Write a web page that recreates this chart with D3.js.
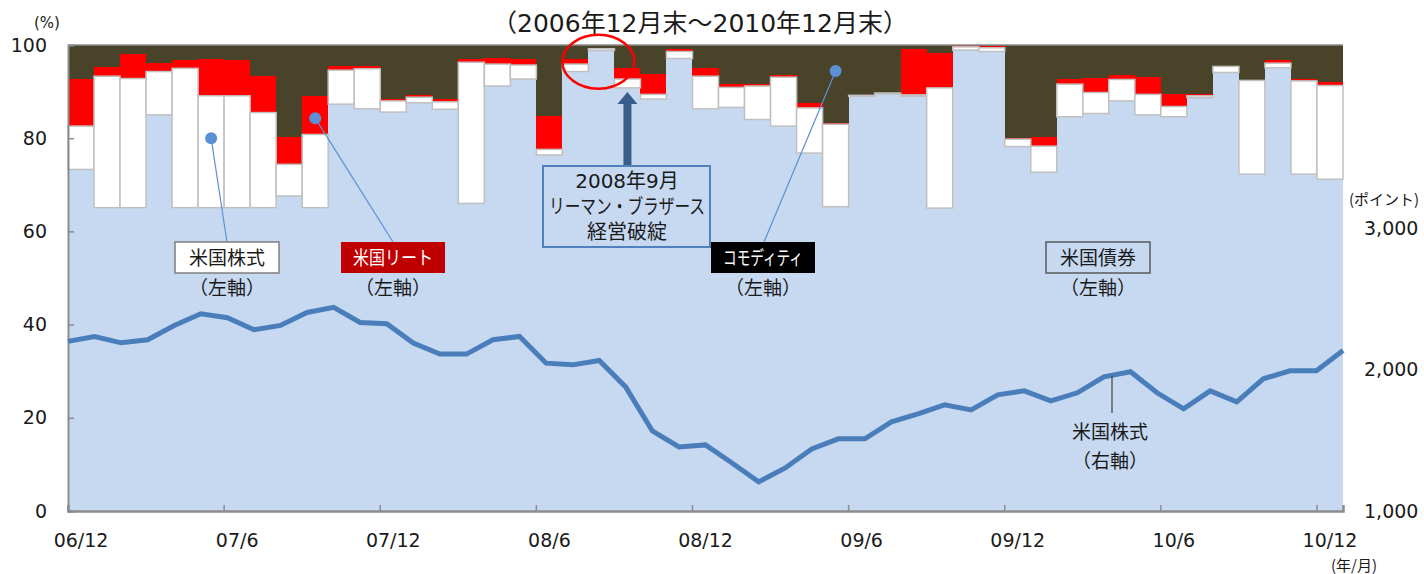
<!DOCTYPE html>
<html>
<head>
<meta charset="utf-8">
<script src="https://cdn.jsdelivr.net/npm/d3@7"></script>
<style>
  body { margin: 0; background: #fff; }
  text { font-family: "DejaVu Sans", "Noto Sans CJK JP", sans-serif; fill: #1a1a1a; }
  .jp { font-family: "Noto Sans CJK JP", sans-serif; }
</style>
</head>
<body>
<div id="chart"></div>
<script>
// Month-end categories, 06/12 .. 10/12
var categories = ["06/12",
  "07/1","07/2","07/3","07/4","07/5","07/6","07/7","07/8","07/9","07/10","07/11","07/12",
  "08/1","08/2","08/3","08/4","08/5","08/6","08/7","08/8","08/9","08/10","08/11","08/12",
  "09/1","09/2","09/3","09/4","09/5","09/6","09/7","09/8","09/9","09/10","09/11","09/12",
  "10/1","10/2","10/3","10/4","10/5","10/6","10/7","10/8","10/9","10/10","10/11","10/12"];
var tickLabels = ["06/12","07/6","07/12","08/6","08/12","09/6","09/12","10/6","10/12"];

// Allocation shares (%), left axis
var bond = [73.3,65.1,65.1,85.0,65.1,65.1,65.1,65.1,67.6,65.1,
            87.3,86.3,85.6,87.6,86.2,66.0,91.2,92.7,76.4,94.3,
            98.8,90.8,88.4,97.1,86.3,86.6,84.0,82.6,76.8,65.3,
            89.0,89.5,89.0,65.0,98.9,98.6,78.2,72.7,84.6,85.3,
            88.0,85.0,84.6,88.7,94.1,72.3,95.1,72.3,71.2];
var stock = [9.3,28.2,27.7,9.3,29.9,24.0,24.0,20.4,6.8,15.7,
             7.3,8.6,2.4,1.2,1.6,30.3,4.7,3.0,1.2,1.6,
             0.4,1.9,1.0,1.5,7.0,4.3,7.2,10.5,9.7,17.7,
             0.2,0.2,0.3,25.8,0.7,0.8,1.6,5.6,7.0,4.5,
             4.6,4.4,2.2,0.4,1.3,20.1,1.0,20.0,20.1];
var reit = [10.0,2.0,5.3,1.8,1.7,7.9,7.6,7.8,5.9,8.3,
            1.0,0.7,0.5,0.4,0.7,0.7,1.4,1.2,7.2,1.1,
            0.1,2.3,4.4,0.5,1.7,0.7,0.4,0.5,1.0,0.3,
            0.1,0.1,9.8,7.5,0.3,0.4,0.3,2.0,1.0,3.2,
            1.0,3.8,2.7,0.3,0.2,0.1,0.6,0.5,0.8];
var commodity = [7.4,4.7,1.9,3.9,3.3,3.0,3.3,6.7,19.7,10.9,
                 4.4,4.4,11.5,10.8,11.5,3.0,2.7,3.1,15.2,3.0,
                 0.7,5.0,6.2,0.9,5.0,8.4,8.4,6.4,12.5,16.7,
                 10.7,10.2,0.9,1.7,0.1,0.2,19.9,19.7,7.4,7.0,
                 6.4,6.8,10.5,10.6,4.4,7.5,3.3,7.2,7.9];

// US stock index (points), right axis
var stockIndex = [2201,2236,2191,2213,2314,2397,2369,2284,2314,2406,
                  2442,2335,2326,2189,2111,2111,2213,2236,2047,2035,
                  2066,1877,1567,1454,1468,1340,1206,1305,1440,1511,
                  1511,1631,1688,1752,1716,1823,1851,1780,1837,1950,
                  1986,1837,1723,1851,1773,1936,1993,1993,2137];

var width = 1424, height = 574;
var plot = { left: 68, right: 1343, top: 45, bottom: 511 };
var colors = { bond: "#c6d9f1", stock: "#ffffff", reit: "#ff0000", commodity: "#494429" };

var svg = d3.select("#chart").append("svg")
    .attr("width", width)
    .attr("height", height);

var x = d3.scaleBand().domain(categories).range([plot.left, plot.right]).padding(0);
var xLine = d3.scalePoint().domain(categories).range([plot.left, plot.right]);
var y = d3.scaleLinear().domain([0, 100]).range([plot.bottom, plot.top]);
var y2 = d3.scaleLinear().domain([1000, 4300]).range([plot.bottom, plot.top]);

var rows = categories.map(function(c, i) {
    return { cat: c, bond: bond[i], stock: stock[i], reit: reit[i], commodity: commodity[i] };
});
var series = d3.stack().keys(["bond", "stock", "reit", "commodity"])(rows);
var byKey = {};
series.forEach(function(s) { byKey[s.key] = s; });

// bars: white stock bars last so their outline stays visible
["bond", "reit", "commodity", "stock"].forEach(function(key) {
    svg.append("g")
        .attr("class", "layer " + key)
        .selectAll("rect")
        .data(byKey[key])
        .enter().append("rect")
        .attr("x", d => x(d.data.cat))
        .attr("width", x.bandwidth())
        .attr("y", d => y(d[1]))
        .attr("height", d => y(d[0]) - y(d[1]))
        .attr("fill", colors[key])
        .attr("stroke", key === "stock" ? "#c0c0c0" : "none")
        .attr("stroke-width", key === "stock" ? 1.5 : 0)
        .attr("shape-rendering", key === "stock" ? null : "crispEdges");
});

// gray rim along 100%
svg.append("line")
    .attr("x1", plot.left).attr("x2", plot.right)
    .attr("y1", y(100)).attr("y2", y(100))
    .attr("stroke", "#8c8c8c").attr("stroke-width", 1.5);

// left axis
var yAxis = d3.axisLeft(y).tickValues([0, 20, 40, 60, 80, 100]).tickSize(-6).tickPadding(21);
var gy = svg.append("g").attr("transform", "translate(" + plot.left + ",0)").call(yAxis);
gy.select(".domain").attr("stroke", "#8c8c8c").attr("stroke-width", 2);
gy.selectAll(".tick line").attr("stroke", "#8c8c8c").attr("stroke-width", 1.5);
gy.selectAll("text").style("font-size", "19px").attr("fill", "#1a1a1a");

// bottom axis: ticks at month boundaries, labels centred on bars
var xAxis = d3.axisBottom(x).tickValues(tickLabels).tickSize(-6).tickPadding(0);
var gx = svg.append("g").attr("transform", "translate(0," + plot.bottom + ")").call(xAxis);
gx.select(".domain").attr("stroke", "#8c8c8c").attr("stroke-width", 2.5);
gx.selectAll(".tick line")
    .attr("x1", -x.bandwidth() / 2).attr("x2", -x.bandwidth() / 2)
    .attr("stroke", "#8c8c8c").attr("stroke-width", 1.5);
gx.selectAll("text").attr("y", 29).attr("dy", "0.35em").style("font-size", "19px").attr("fill", "#1a1a1a");

// right axis, labels only
var y2Axis = d3.axisRight(y2).tickValues([1000, 2000, 3000]).tickSize(0).tickPadding(21)
    .tickFormat(d3.format(","));
var gy2 = svg.append("g").attr("transform", "translate(" + plot.right + ",0)").call(y2Axis);
gy2.select(".domain").remove();
gy2.selectAll("text").style("font-size", "19px").attr("fill", "#1a1a1a");

// stock index line
var line = d3.line()
    .x((d, i) => xLine(categories[i]))
    .y(d => y2(d));
svg.append("path")
    .datum(stockIndex)
    .attr("fill", "none")
    .attr("stroke", "#4a7ebb")
    .attr("stroke-width", 5)
    .attr("d", line);

// unit labels and title
svg.append("text").attr("x", 47).attr("y", 23).attr("dy", "0.35em")
    .attr("text-anchor", "middle").style("font-size", "15px").text("(%)");
svg.append("text").attr("x", 1384).attr("y", 200).attr("dy", "0.35em")
    .attr("text-anchor", "middle").attr("class", "jp").style("font-size", "15px").text("(ポイント)");
svg.append("text").attr("x", 1354).attr("y", 566).attr("dy", "0.35em")
    .attr("text-anchor", "middle").attr("class", "jp").style("font-size", "15px").text("(年/月)");
svg.append("text").attr("x", 700).attr("y", 23).attr("dy", "0.35em")
    .attr("text-anchor", "middle").style("font-size", "25px").text("（2006年12月末～2010年12月末）");

// --- annotations ---
var dotColor = "#5b8fd6";
function bandMid(c) { return x(c) + x.bandwidth() / 2; }

function seriesLabel(cx, text, fill, stroke, textFill, textLen) {
    var g = svg.append("g");
    g.append("rect")
        .attr("x", cx - 52).attr("y", 242).attr("width", 104).attr("height", 31)
        .attr("fill", fill).attr("stroke", stroke).attr("stroke-width", stroke === "none" ? 0 : 1.5);
    var t = g.append("text").attr("class", "jp").attr("x", cx).attr("y", 258).attr("dy", "0.35em")
        .attr("text-anchor", "middle").style("font-size", "19px").style("fill", textFill)
        .text(text);
    if (textLen) t.attr("textLength", textLen).attr("lengthAdjust", "spacingAndGlyphs");
    g.append("text").attr("class", "jp").attr("x", cx).attr("y", 288).attr("dy", "0.35em")
        .attr("text-anchor", "middle").style("font-size", "19px").text("（左軸）");
}

function leader(x1, y1, x2, y2_) {
    svg.append("line").attr("x1", x1).attr("y1", y1).attr("x2", x2).attr("y2", y2_)
        .attr("stroke", dotColor).attr("stroke-width", 1.2);
    svg.append("circle").attr("cx", x1).attr("cy", y1).attr("r", 6).attr("fill", dotColor);
}

leader(bandMid("07/5"), y(80), 227, 242);
leader(bandMid("07/9"), y(84.3), 393, 242);
leader(bandMid("09/5"), y(94.4), 764, 242);

seriesLabel(227, "米国株式", "#ffffff", "#7f7f7f", "#1a1a1a", null);
seriesLabel(393, "米国リート", "#c00000", "none", "#ffffff", 80);
seriesLabel(763, "コモディティ", "#000000", "none", "#ffffff", 80);
seriesLabel(1098, "米国債券", "none", "#595959", "#1a1a1a", null);

// Lehman annotation
svg.append("ellipse")
    .attr("cx", bandMid("08/8") - 3).attr("cy", y(96.4))
    .attr("rx", 36).attr("ry", 27)
    .attr("fill", "none").attr("stroke", "#ff0000").attr("stroke-width", 2.5);

var ax = bandMid("08/9");
svg.append("rect").attr("x", ax - 4).attr("y", 102).attr("width", 8).attr("height", 65).attr("fill", "#385d8a");
svg.append("path")
    .attr("d", "M" + (ax - 10) + ",104 L" + ax + ",92 L" + (ax + 10) + ",104 Z")
    .attr("fill", "#385d8a");

svg.append("rect").attr("x", 543).attr("y", 166).attr("width", 167).attr("height", 81)
    .attr("fill", "none").attr("stroke", "#4f81bd").attr("stroke-width", 2);
var lehman = ["2008年9月", "リーマン・ブラザース", "経営破綻"];
svg.selectAll(".lehman").data(lehman).enter().append("text")
    .attr("class", "lehman")
    .attr("x", 627).attr("y", (d, i) => 181 + i * 25.5).attr("dy", "0.35em")
    .attr("text-anchor", "middle").style("font-size", "20px")
    .each(function(d, i) { if (i === 1) d3.select(this).attr("textLength", 156).attr("lengthAdjust", "spacingAndGlyphs"); })
    .text(d => d);

// right-axis stock label
svg.append("line").attr("x1", 1112).attr("x2", 1112).attr("y1", 376).attr("y2", 413)
    .attr("stroke", "#404040").attr("stroke-width", 1.2);
svg.append("text").attr("class", "jp").attr("x", 1110).attr("y", 432).attr("dy", "0.35em")
    .attr("text-anchor", "middle").style("font-size", "19px").text("米国株式");
svg.append("text").attr("class", "jp").attr("x", 1110).attr("y", 461).attr("dy", "0.35em")
    .attr("text-anchor", "middle").style("font-size", "19px").text("（右軸）");
</script>
</body>
</html>
